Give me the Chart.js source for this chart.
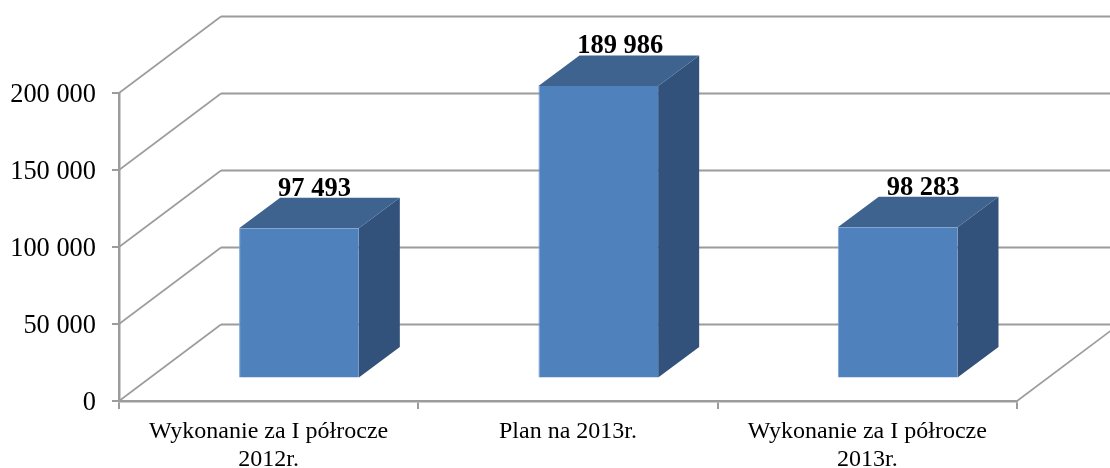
<!DOCTYPE html>
<html lang="pl">
<head>
<meta charset="utf-8">
<style>html,body{margin:0;padding:0;background:#fff}#w{width:1110px;height:468px;overflow:hidden}</style>
<script src="https://cdn.jsdelivr.net/npm/chart.js@4"></script>
</head>
<body>
<div id="w"><canvas id="c" width="1110" height="468"></canvas></div>
<script>
const categories = [["Wykonanie za I półrocze","2012r."],["Plan na 2013r."],["Wykonanie za I półrocze","2013r."]];
const values = [97493, 189986, 98283];
const fmt = v => String(v).replace(/\B(?=(\d{3})+$)/g, " ");

const FLOOR = {dx:102, dy:-76.5};   // front plane to back wall
const BARPOS = {dx:30.3, dy:-22.5}; // bar front face relative to the front plane
const DEPTH = {dx:41, dy:-30.5};    // bar depth
const GRID = "#9c9c9c";
const labelNudge = [15.5, 22, 25.5];

const walls3d = {
  id:"walls3d",
  beforeDatasetsDraw(chart){
    const {ctx, chartArea:a, scales:{y}} = chart;
    ctx.save();
    ctx.strokeStyle = GRID;
    y.ticks.forEach(t=>{
      const py = y.getPixelForValue(t.value);
      ctx.lineWidth = 1.6;
      ctx.beginPath();
      ctx.moveTo(a.left, py);
      ctx.lineTo(a.left+FLOOR.dx, py+FLOOR.dy);
      ctx.stroke();
      ctx.lineWidth = 2;
      ctx.beginPath();
      ctx.moveTo(a.left+FLOOR.dx, py+FLOOR.dy);
      ctx.lineTo(a.right+FLOOR.dx, py+FLOOR.dy);
      ctx.stroke();
    });
    ctx.lineWidth = 1.6;
    ctx.beginPath();
    ctx.moveTo(a.right, a.bottom);
    ctx.lineTo(a.right+FLOOR.dx, a.bottom+FLOOR.dy);
    ctx.stroke();
    // bar side and top faces
    chart.getDatasetMeta(0).data.forEach(b=>{
      const {x,y:top,base,width} = b.getProps(["x","y","base","width"],true);
      const l = x-width/2+BARPOS.dx, r = x+width/2+BARPOS.dx;
      const t = top+BARPOS.dy, bt = base+BARPOS.dy;
      ctx.fillStyle = "#32527c";
      ctx.beginPath();
      ctx.moveTo(r,t);ctx.lineTo(r+DEPTH.dx,t+DEPTH.dy);
      ctx.lineTo(r+DEPTH.dx,bt+DEPTH.dy);ctx.lineTo(r,bt);ctx.closePath();ctx.fill();
      ctx.fillStyle = "#3e638f";
      ctx.beginPath();
      ctx.moveTo(l,t);ctx.lineTo(l+DEPTH.dx,t+DEPTH.dy);
      ctx.lineTo(r+DEPTH.dx,t+DEPTH.dy);ctx.lineTo(r,t);ctx.closePath();ctx.fill();
    });
    ctx.restore();
  },
  beforeDatasetDraw(chart){
    chart.ctx.save();
    chart.ctx.translate(BARPOS.dx, BARPOS.dy);
  },
  afterDatasetDraw(chart){
    chart.ctx.restore();
  },
  afterDatasetsDraw(chart){
    const {ctx} = chart;
    ctx.save();
    ctx.font = 'bold 26.5px "Liberation Serif"';
    ctx.fillStyle = "#000";
    ctx.textAlign = "center";
    ctx.textBaseline = "alphabetic";
    chart.getDatasetMeta(0).data.forEach((b,i)=>{
      const {x,y:top} = b.getProps(["x","y"],true);
      ctx.fillText(fmt(values[i]), x+BARPOS.dx+labelNudge[i], top+BARPOS.dy+DEPTH.dy-2);
    });
    ctx.restore();
  }
};

new Chart(document.getElementById("c"),{
  type:"bar",
  data:{labels:categories,datasets:[{
    data:values,
    backgroundColor:"#4f81bd",
    borderColor:"#7aa3d6",
    borderWidth:{left:1,bottom:1},
    barPercentage:0.4,
    categoryPercentage:1,
    clip:false
  }]},
  options:{
    responsive:false,
    animation:false,
    layout:{padding:{top:93,right:93,left:0,bottom:0}},
    plugins:{legend:{display:false},tooltip:{enabled:false}},
    scales:{
      x:{
        afterFit(s){s.height=67},
        border:{color:GRID,width:2.5},
        grid:{drawOnChartArea:false,drawTicks:true,tickLength:8,color:GRID,lineWidth:2},
        ticks:{color:"#000",maxRotation:0,autoSkip:false,padding:9,
          font:{family:'"Liberation Serif"',size:24,lineHeight:1.15}}
      },
      y:{
        min:0,max:200000,
        afterFit(s){s.width=119},
        afterUpdate(s){
          if(s._shifted) return;
          s._shifted = true;
          const draw = s.drawLabels;
          s.drawLabels = function(ca){
            this.ctx.save();
            this.ctx.translate(0,2.5);
            draw.call(this,ca);
            this.ctx.restore();
          };
        },
        border:{color:GRID,width:2.5},
        grid:{drawOnChartArea:false,drawTicks:true,tickLength:7,color:GRID,lineWidth:2},
        ticks:{stepSize:50000,color:"#000",padding:16,callback:v=>fmt(v),
          font:{family:'"Liberation Serif"',size:26.4}}
      }
    }
  },
  plugins:[walls3d]
});
</script>
</body>
</html>
